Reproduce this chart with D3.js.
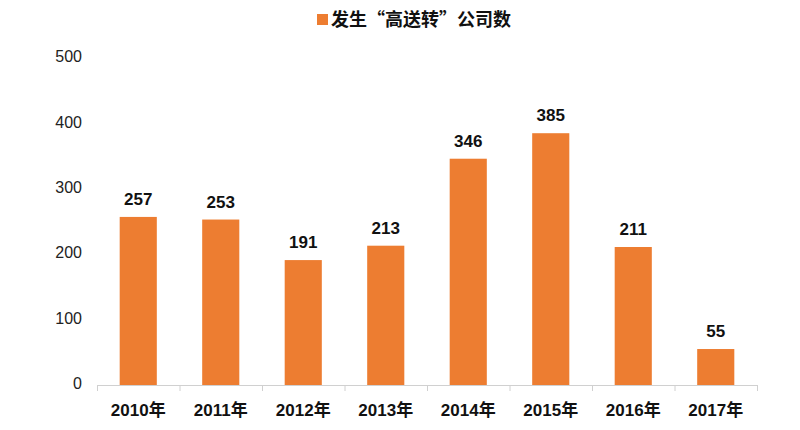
<!DOCTYPE html>
<html><head><meta charset="utf-8">
<script src="https://cdn.jsdelivr.net/npm/d3@7"></script>
<style>body{margin:0;background:#fff;}svg{display:block;}</style>
</head><body>
<svg id="c" width="800" height="430"></svg>
<script>
const categories = ["2010年","2011年","2012年","2013年","2014年","2015年","2016年","2017年"];
const values = [257,253,191,213,346,385,211,55];
const yTicks = [0,100,200,300,400,500];
const seriesName = "发生“高送转”公司数";

const svg = d3.select("#c");
const color = "#ED7D31";
const x = d3.scaleBand().domain(categories).range([97,757]).paddingInner(0.55).paddingOuter(0.275);
const y = d3.scaleLinear().domain([0,500]).range([385,58]);

// y labels
svg.append("g").selectAll("text").data(yTicks).join("text")
  .attr("x",82).attr("y",d=>y(d)-1.5).attr("dy","0.35em").attr("text-anchor","end")
  .attr("font-family","Liberation Sans, Arial, sans-serif").attr("font-size",16).attr("fill","#222")
  .text(d=>d);

// bars
svg.append("g").selectAll("rect").data(values).join("rect")
  .attr("x",(d,i)=>x(categories[i])).attr("width",x.bandwidth())
  .attr("y",d=>y(d)).attr("height",d=>y(0)-y(d)).attr("fill",color);

// value labels
svg.append("g").selectAll("text").data(values).join("text")
  .attr("x",(d,i)=>x(categories[i])+x.bandwidth()/2).attr("y",d=>y(d)-12)
  .attr("text-anchor","middle").attr("font-family","Liberation Sans, Arial, sans-serif")
  .attr("font-size",17).attr("font-weight","bold").attr("fill","#111").text(d=>d);

// x axis
const xa = svg.append("g");
xa.append("line").attr("x1",97).attr("x2",757).attr("y1",385.5).attr("y2",385.5).attr("stroke","#d0d0d0");
const step = x.step();
xa.selectAll("line.t").data(d3.range(categories.length+1)).join("line").attr("class","t")
  .attr("x1",d=>97+d*step+0.5).attr("x2",d=>97+d*step+0.5).attr("y1",385).attr("y2",391).attr("stroke","#d0d0d0");
xa.selectAll("text").data(categories).join("text")
  .attr("x",d=>x(d)+x.bandwidth()/2).attr("y",410).attr("dy","0.35em").attr("text-anchor","middle")
  .attr("font-family","Liberation Sans, 'Noto Sans CJK SC', sans-serif").attr("font-size",17).attr("font-weight","bold").attr("fill","#111")
  .text(d=>d);

// legend
const lg = svg.append("g");
lg.append("rect").attr("x",317).attr("y",14).attr("width",11).attr("height",11).attr("fill",color);
lg.append("text").attr("x",331).attr("y",20).attr("dy","0.35em")
  .attr("font-family","'Noto Sans CJK SC', sans-serif").attr("font-size",18).attr("font-weight","bold").attr("fill","#111")
  .text(seriesName);
</script>
</body></html>
